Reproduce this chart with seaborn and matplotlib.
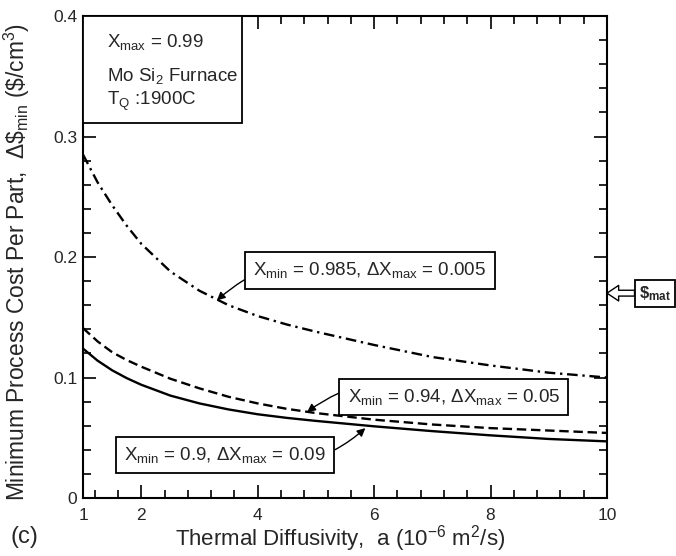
import numpy as np
import pandas as pd
import matplotlib
matplotlib.use("Agg")
import matplotlib.pyplot as plt
import seaborn as sns
from matplotlib.ticker import MultipleLocator, FixedLocator
from matplotlib.patches import Rectangle

# Data
diffusivity = [1, 1.25, 1.5, 1.75, 2, 2.5, 3, 3.5, 4, 4.5, 5, 6, 7, 8, 9, 10]
cost_0985 = [0.285, 0.262, 0.243, 0.226, 0.211, 0.188, 0.172, 0.160, 0.151, 0.144,
             0.138, 0.127, 0.117, 0.110, 0.104, 0.100]
cost_094 = [0.141, 0.130, 0.121, 0.1145, 0.109, 0.099, 0.091, 0.084, 0.0785, 0.074,
            0.0705, 0.065, 0.061, 0.058, 0.056, 0.054]
cost_09 = [0.124, 0.114, 0.106, 0.0995, 0.094, 0.085, 0.0785, 0.0735, 0.0695, 0.0665,
           0.064, 0.0595, 0.0555, 0.052, 0.049, 0.047]

x_ticks = [1, 2, 4, 6, 8, 10]
y_ticks = [0, 0.1, 0.2, 0.3, 0.4]
y_tick_labels = ["0", "0.1", "0.2", "0.3", "0.4"]

# Style
sns.set_theme(style="ticks")
plt.rcParams['font.family'] = ['Liberation Sans', 'DejaVu Sans']
plt.rcParams['mathtext.fontset'] = 'custom'
plt.rcParams['mathtext.rm'] = 'Liberation Sans'
plt.rcParams['mathtext.it'] = 'Liberation Sans:italic'

fig = plt.figure(figsize=(6.76, 5.56), dpi=100)
ax = fig.add_axes([0.1228, 0.1043, 0.7751, 0.8669])

lw = 1.7
sns.lineplot(x=diffusivity, y=cost_0985, ax=ax, color='black', lw=lw,
             linestyle=(0, (4.5, 2, 1, 2)))
sns.lineplot(x=diffusivity, y=cost_094, ax=ax, color='black', lw=lw,
             linestyle=(0, (4, 2)))
sns.lineplot(x=diffusivity, y=cost_09, ax=ax, color='black', lw=lw,
             linestyle='-')

ax.set_xlim(1, 10)
ax.set_ylim(0, 0.4)
ax.xaxis.set_major_locator(FixedLocator(x_ticks))
ax.xaxis.set_minor_locator(MultipleLocator(0.4))
ax.set_xticklabels([str(t) for t in x_ticks])
ax.set_yticks(y_ticks)
ax.set_yticklabels(y_tick_labels)
ax.yaxis.set_minor_locator(MultipleLocator(0.02))

ax.tick_params(which='both', direction='in', top=True, right=True,
               color='black', labelsize=12.5, width=1.2)
ax.tick_params(which='major', length=9.5)
ax.tick_params(which='minor', length=5.8)
ax.tick_params(axis='x', pad=7)
ax.tick_params(axis='y', pad=4)
for sp in ax.spines.values():
    sp.set_linewidth(1.5)
    sp.set_color('black')

ax.set_xlabel(r"Thermal Diffusivity,  a (10$\mathregular{^{-6}}$ m$\mathregular{^2}$/s)",
              fontsize=16)
ax.set_ylabel(r"Minimum Process Cost Per Part,  Δ$\mathregular{\$_{min}}$ (\$/cm$\mathregular{^3}$)",
              fontsize=16.4)
ax.xaxis.set_label_coords(0.49, -0.052)
ax.yaxis.set_label_coords(-0.097, 0.49)

# Top-left info box
ax.add_patch(Rectangle((0, 0.778), 0.303, 0.222, transform=ax.transAxes,
                       fill=True, fc='white', ec='black', lw=1.3, zorder=3))
ax.text(0.046, 0.946, r"$\mathregular{X_{max}}$ = 0.99", transform=ax.transAxes,
        fontsize=13.5, va='center', ha='left', zorder=4)
ax.text(0.046, 0.876, r"Mo Si$\mathregular{_2}$ Furnace", transform=ax.transAxes,
        fontsize=13.5, va='center', ha='left', zorder=4)
ax.text(0.046, 0.822, r"T$\mathregular{_Q}$ :1900C", transform=ax.transAxes,
        fontsize=13.5, va='center', ha='left', zorder=4)

box = dict(boxstyle='square,pad=0.45', fc='white', ec='black', lw=1.3)
arrow = dict(arrowstyle='-|>', color='black', lw=1, mutation_scale=12,
             shrinkA=0, shrinkB=0)

ax.annotate(r"$\mathregular{X_{min}}$ = 0.985, Δ$\mathregular{X_{max}}$ = 0.005",
            xy=(3.30, 0.164), xytext=(5.93, 0.189), fontsize=13.5,
            ha='center', va='center', bbox=box,
            arrowprops=dict(arrow, connectionstyle='arc3,rad=0.3'))
ax.annotate(r"$\mathregular{X_{min}}$ = 0.94, Δ$\mathregular{X_{max}}$ = 0.05",
            xy=(4.85, 0.0714), xytext=(7.37, 0.0838), fontsize=13.5,
            ha='center', va='center', bbox=box,
            arrowprops=dict(arrow, connectionstyle='arc3,rad=0.3'))
ax.annotate(r"$\mathregular{X_{min}}$ = 0.9, Δ$\mathregular{X_{max}}$ = 0.09",
            xy=(5.85, 0.058), xytext=(3.44, 0.0357), fontsize=13.5,
            ha='center', va='center', bbox=box,
            arrowprops=dict(arrow, connectionstyle='arc3,rad=0.3'))

# Material cost marker outside the axes
ax.annotate(r"$\mathregular{\$_{mat}}$", xy=(10.0, 0.170), xytext=(10.83, 0.170),
            fontsize=12, fontweight='bold', ha='center', va='center',
            bbox=dict(boxstyle='square,pad=0.25', fc='white', ec='black', lw=1.3),
            annotation_clip=False,
            arrowprops=dict(arrowstyle='simple,head_length=0.6,head_width=0.8,tail_width=0.3',
                            fc='white', ec='black', lw=1, mutation_scale=14,
                            shrinkA=0, shrinkB=0))

fig.text(0.015, 0.034, "(c)", fontsize=17, ha='left', va='center')

fig.savefig("out.png", dpi=100, facecolor='white')
